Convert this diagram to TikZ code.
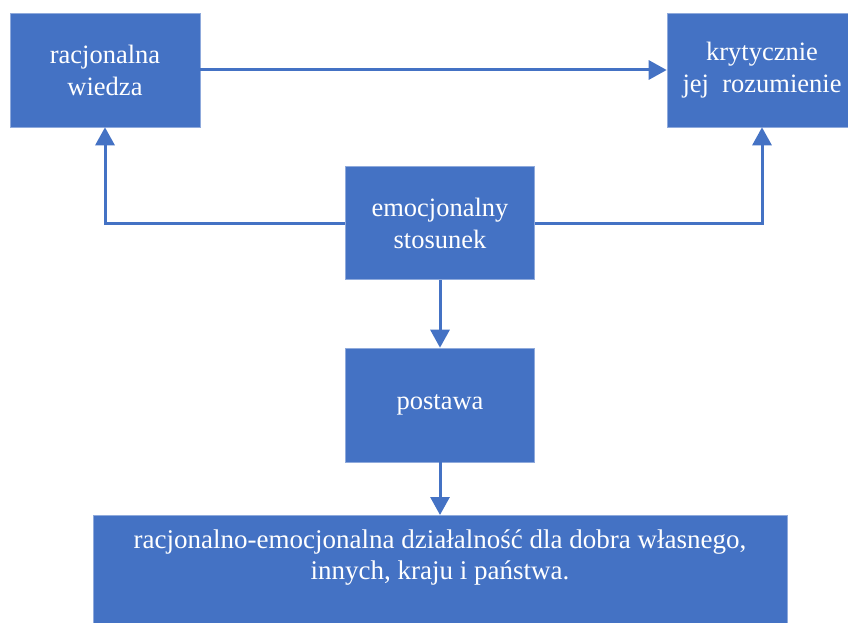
\documentclass[tikz,border=0pt]{standalone}
\usepackage{fontspec}
\setmainfont{Liberation Serif}
\usetikzlibrary{arrows.meta}
\definecolor{niebieski}{HTML}{4472C4}

\begin{document}
\begin{tikzpicture}[x=1pt, y=-1pt, >={Triangle[length=18pt, width=19pt]},
    blok/.style={fill=niebieski, draw=niebieski!60!white, line width=0.6pt, text=white,
        align=center, inner sep=0pt, font=\fontsize{26.5}{32}\selectfont},
    strzalka/.style={->, draw=niebieski, line width=3pt}]
            \useasboundingbox (0,0) rectangle (848,623);
            \clip (0,0) rectangle (848,623);

            \node[blok, minimum width=190pt, minimum height=114pt] (wiedza) at (105,70) {racjonalna\\wiedza};
            \node[blok, minimum width=190pt, minimum height=114pt] (rozumienie) at (762,70) {krytycznie\\jej\ \ rozumienie};
            \node[blok, minimum width=189pt, minimum height=113pt] (stosunek) at (440,223) {emocjonalny\\stosunek};
            \node[blok, minimum width=189pt, minimum height=114pt] (postawa) at (440,405) {postawa};
            \node[blok, minimum width=694pt, minimum height=130pt, anchor=north, font=\fontsize{27}{31}\selectfont] (dzialanie) at (440,515)
                {\parbox[c][130pt][t]{680pt}{\centering\vspace*{14pt}racjonalno-emocjonalna działalność dla dobra własnego,\\innych, kraju i państwa.}};

            \draw[strzalka] (wiedza) -- (rozumienie);
            \draw[strzalka] (stosunek.west) -| (wiedza.south);
            \draw[strzalka] (stosunek.east) -| (rozumienie.south);
            \draw[strzalka] (stosunek) -- (postawa);
            \draw[strzalka] (postawa) -- (dzialanie);
        \end{tikzpicture}
\end{document}
